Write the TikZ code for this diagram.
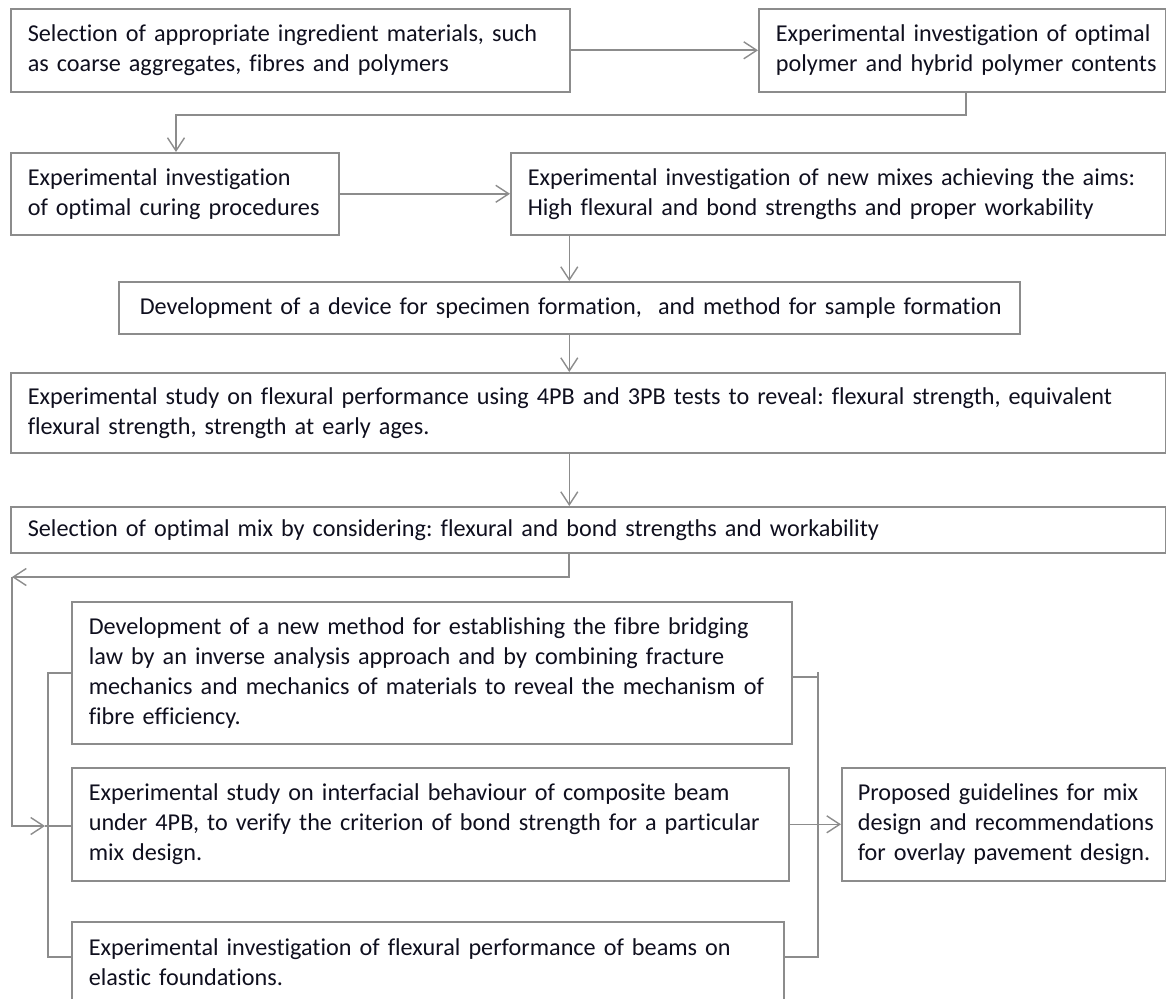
\documentclass[tikz,border=0pt]{standalone}
\usepackage{fontspec}
\setmainfont{Carlito}[Ligatures={NoCommon}]
\usetikzlibrary{arrows.meta}
\definecolor{lg}{RGB}{140,140,140}
\definecolor{tx}{RGB}{15,15,30}
\frenchspacing
\newcommand\oneline[1]{\mbox{#1}}
\begin{document}
\begin{tikzpicture}[x=1pt,y=-1pt,
 box/.style={draw=lg, line width=1.6pt, inner xsep=17pt, inner ysep=0pt, align=left, anchor=north west, font=\fontsize{24.2}{30}\selectfont, text=tx},
 conn/.style={draw=lg, line width=1.6pt},
 arr/.style={conn, -{Straight Barb[length=13pt,width=17pt,line width=1.4pt]}}]
\useasboundingbox (0,0) rectangle (1166,998);
\clip (0,0) rectangle (1166,998);
\node[box, text width=525pt, minimum height=83pt] (b1) at (10,8) {\oneline{Selection of appropriate ingredient materials, such}\\\oneline{as coarse aggregates, fibres and polymers}};
\node[box, text width=373pt, minimum height=83pt] (b2) at (758,8) {\oneline{Experimental investigation of optimal}\\\oneline{polymer and hybrid polymer contents}};
\node[box, text width=294pt, minimum height=82pt] (b3) at (10,152) {\oneline{Experimental investigation}\\\oneline{of optimal curing procedures}};
\node[box, text width=621pt, minimum height=82pt] (b4) at (510,152) {\oneline{Experimental investigation of new mixes achieving the aims:}\\\oneline{High flexural and bond strengths and proper workability}};
\node[box, inner xsep=21pt, text width=859pt, minimum height=52pt] (b5) at (118,281) {\oneline{Development of a device for specimen formation,\ \ and method for sample formation}};
\node[box, text width=1121pt, minimum height=80pt] (b6) at (10,372) {\oneline{Experimental study on flexural performance using 4PB and 3PB tests to reveal: flexural strength, equivalent}\\\oneline{flexural strength, strength at early ages.}};
\node[box, text width=1121pt, minimum height=46pt] (b7) at (10,506) {\oneline{Selection of optimal mix by considering: flexural and bond strengths and workability}};
\node[box, text width=686pt, minimum height=142pt] (b8) at (71,601) {\oneline{Development of a new method for establishing the fibre bridging}\\\oneline{law by an inverse analysis approach and by combining fracture}\\\oneline{mechanics and mechanics of materials to reveal the mechanism of}\\\oneline{fibre efficiency.}};
\node[box, text width=683pt, minimum height=113pt] (b9) at (71,767) {\oneline{Experimental study on interfacial behaviour of composite beam}\\\oneline{under 4PB, to verify the criterion of bond strength for a particular}\\\oneline{mix design.}};
\node[box, text width=678pt, minimum height=80pt] (b10) at (71,921) {\oneline{Experimental investigation of flexural performance of beams on}\\\oneline{elastic foundations.}};
\node[box, inner xsep=16pt, text width=292pt, minimum height=113pt] (b11) at (841,767) {\oneline{Proposed guidelines for mix}\\\oneline{design and recommendations}\\\oneline{for overlay pavement design.}};
% connectors
\coordinate (p1) at (966,115);
\coordinate (p2) at (176,115);
\coordinate (q1) at (569,577);
\coordinate (q2) at (12,577);
\coordinate (q3) at (12,826);
\coordinate (q4) at (45,826);
\coordinate (l1) at (48,672);
\coordinate (l2) at (48,957);
\coordinate (r0) at (818,677);
\coordinate (r1) at (818,672);
\coordinate (r2) at (818,957);
\draw[arr] (b1) -- (b2);
\draw[arr] (b2.south -| p1) -- (p1) -- (p2) -- (p2 |- b3.north);
\draw[arr] (b3) -- (b4);
\draw[arr] (b4.south -| b5.north) -- (b5.north);
\draw[arr] (b5.south) -- (b5.south |- b6.north);
\draw[arr] (b6.south -| b5.south) -- (b5.south |- b7.north);
\draw[arr] (b7.south -| q1) -- (q1) -- (q2);
\draw[arr] (q2) -- (q3) -- (q4);
\draw[conn] (q4) -- (q4 -| b9.west);
\draw[conn] (b8.west) -- (b8.west -| l1) -- (l2) -- (l2 -| b10.west);
\draw[conn] (b8.east |- r0) -- (r0);
\draw[conn] (r1) -- (r2) -- (r2 -| b10.east);
\draw[arr] (b9.east) -- (b11.west);
\end{tikzpicture}
\end{document}
